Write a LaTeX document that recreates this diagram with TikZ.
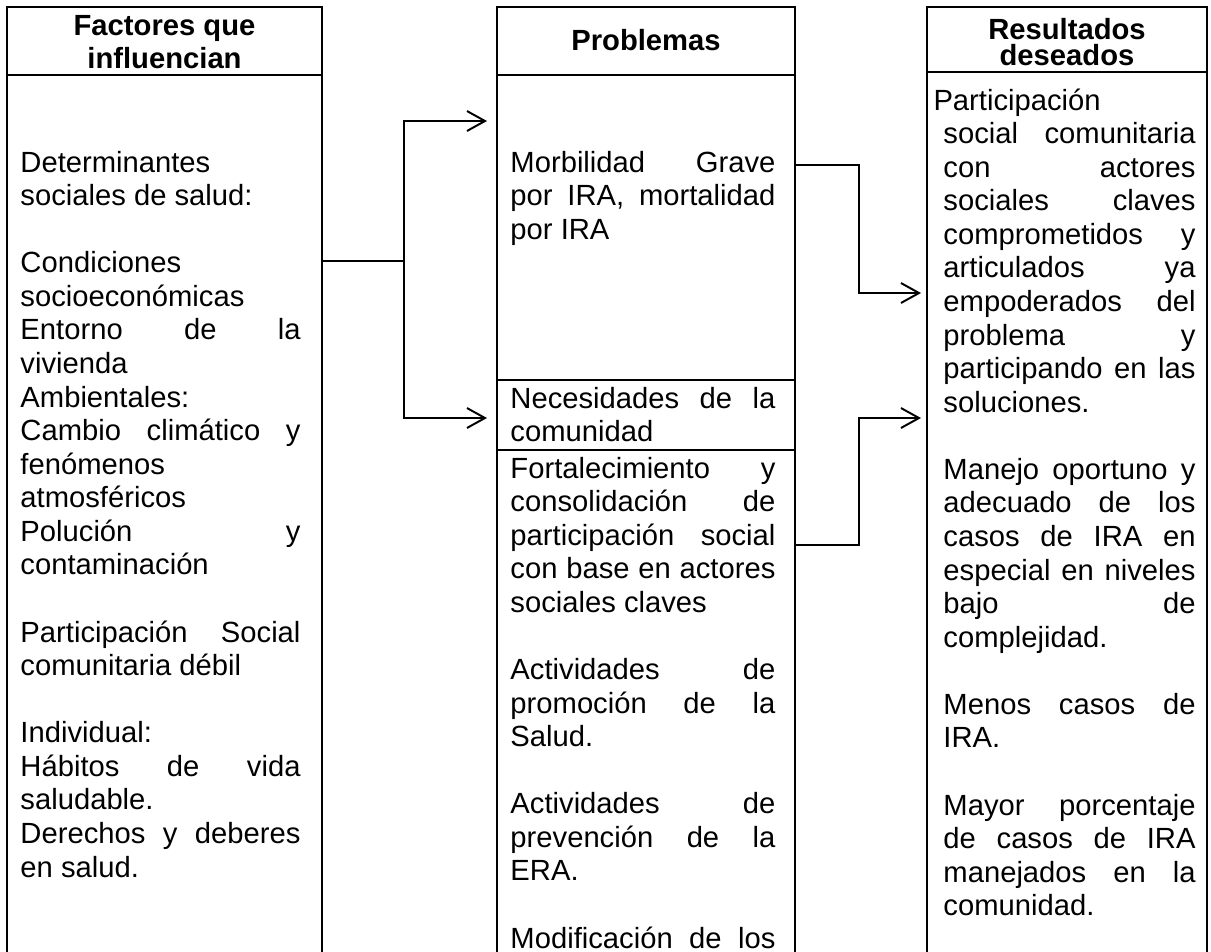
\documentclass[tikz,border=0pt]{standalone}
\usepackage{fontspec}
\setmainfont{Liberation Sans}
\usetikzlibrary{arrows.meta,fit}

\newcommand\jl[1]{{\spaceskip=0pt\xspaceskip=0pt\makebox[\hsize][s]{#1}}}

\begin{document}
\begin{tikzpicture}[
  x=0.411pt, y=-0.411pt,
  font=\fontsize{12pt}{13.8pt}\selectfont,
  cell/.style={draw, line width=0.8pt, inner sep=0pt},
  head/.style={font=\bfseries\fontsize{12pt}{13.6pt}\selectfont, align=flush center, inner sep=0pt, anchor=base},
  body/.style={align=flush left, inner sep=0pt, anchor=base west},
  link/.style={line width=0.8pt, -{Straight Barb[length=7.4pt, width=8.2pt, line width=0.8pt]}}
]
\useasboundingbox (0,0) rectangle (1211,951);
\clip (0,0) rectangle (1211,951);

% columns
\node[cell, fit={(7,7) (322,75)}] (fachead) {};
\node[cell, fit={(7,75) (322,990)}] (facbody) {};
\node[cell, fit={(497,7) (795,75)}] (probhead) {};
\node[cell, fit={(497,75) (795,380)}] (probmorb) {};
\node[cell, fit={(497,380) (795,450)}] (probnec) {};
\node[cell, fit={(497,450) (795,990)}] (probfort) {};
\node[cell, fit={(927,7) (1207,72)}] (reshead) {};
\node[cell, fit={(927,72) (1207,990)}] (resbody) {};

\node[head, text width=120pt] (factit) at (164.5,35) {Factores que\\influencian};
\node[head] (probtit) at (646,50) {Problemas};
\node[head, font=\bfseries\fontsize{12pt}{10.5pt}\selectfont, text width=110pt] (restit) at (1067,39.5) {Resultados\\deseados};

\node[body, text width=115.1pt] (factxt) at (20,172) {%
  Determinantes\\
  sociales de salud:\\
  \mbox{}\\
  Condiciones\\
  socioeconómicas\\
  \jl{Entorno de la}\\
  vivienda\\
  Ambientales:\\
  \jl{Cambio climático y}\\
  fenómenos\\
  atmosféricos\\
  \jl{Polución y}\\
  contaminación\\
  \mbox{}\\
  \jl{Participación Social}\\
  comunitaria débil\\
  \mbox{}\\
  Individual:\\
  \jl{Hábitos de vida}\\
  saludable.\\
  \jl{Derechos y deberes}\\
  en salud.};

\node[body, text width=108.9pt] (morbtxt) at (510,172) {%
  \jl{Morbilidad Grave}\\
  \jl{por IRA, mortalidad}\\
  por IRA};
\node[body, text width=108.9pt] (nectxt) at (510,408) {%
  \jl{Necesidades de la}\\
  comunidad};
\node[body, text width=108.9pt] (forttxt) at (510,478) {%
  \jl{Fortalecimiento y}\\
  \jl{consolidación de}\\
  \jl{participación social}\\
  \jl{con base en actores}\\
  sociales claves\\
  \mbox{}\\
  \jl{Actividades de}\\
  \jl{promoción de la}\\
  Salud.\\
  \mbox{}\\
  \jl{Actividades de}\\
  \jl{prevención de la}\\
  ERA.\\
  \mbox{}\\
  \jl{Modificación de los}};

\node[body, text width=103.6pt] (restxt) at (943,110) {%
  \hspace*{-4.1pt}Participación\\
  \jl{social comunitaria}\\
  \jl{con actores}\\
  \jl{sociales claves}\\
  \jl{comprometidos y}\\
  \jl{articulados ya}\\
  \jl{empoderados del}\\
  \jl{problema y}\\
  \jl{participando en las}\\
  soluciones.\\
  \mbox{}\\
  \jl{Manejo oportuno y}\\
  \jl{adecuado de los}\\
  \jl{casos de IRA en}\\
  \jl{especial en niveles}\\
  \jl{bajo de}\\
  complejidad.\\
  \mbox{}\\
  \jl{Menos casos de}\\
  IRA.\\
  \mbox{}\\
  \jl{Mayor porcentaje}\\
  \jl{de casos de IRA}\\
  \jl{manejados en la}\\
  comunidad.};

% connectors
\coordinate (split) at (404,261);
\coordinate (inmorb) at (487,121);
\coordinate (innec) at (487,418);
\coordinate (busres) at (859,0);
\coordinate (outmorb) at (795,165);
\coordinate (outfort) at (795,545);
\coordinate (inpart) at (921,293);
\coordinate (insol) at (921,418);

\draw[link] (facbody.east |- split) -- (split) |- (inmorb);
\draw[link] (split) |- (innec);
\draw[link] (outmorb) -- (outmorb -| busres) |- (inpart);
\draw[link] (outfort) -- (outfort -| busres) |- (insol);

\end{tikzpicture}
\end{document}
